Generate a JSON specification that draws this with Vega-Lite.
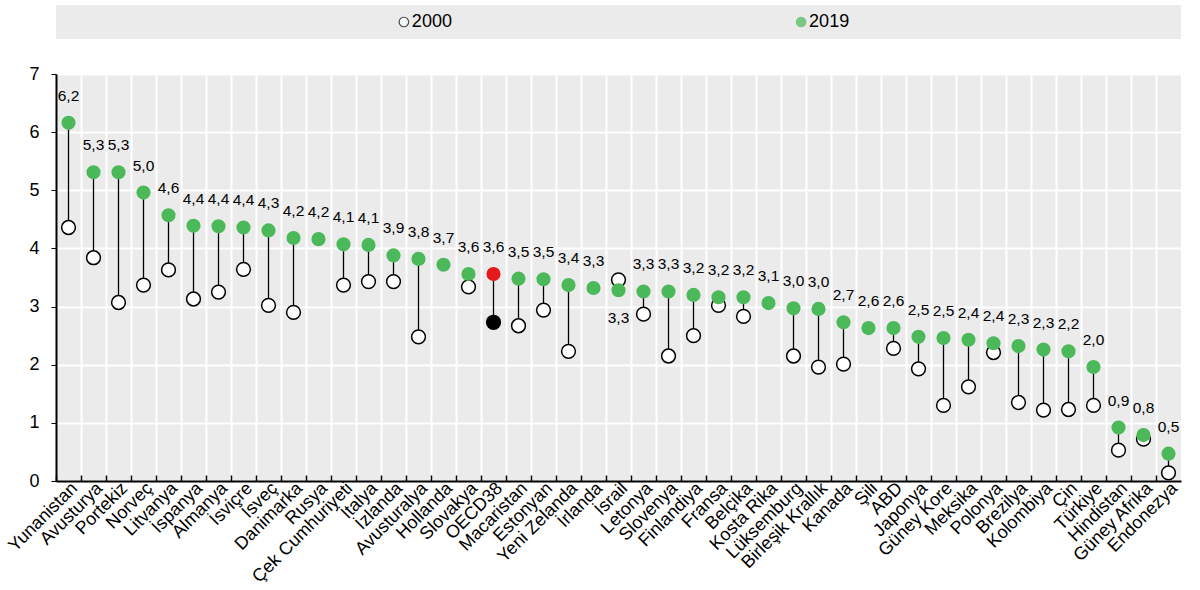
{
  "$schema": "https://vega.github.io/schema/vega-lite/v6.json",
  "padding": 5,
  "spacing": 35,
  "bounds": "flush",
  "config": {
    "locale": {"number": {"decimal": ",", "thousands": ".", "grouping": [3], "currency": ["", ""]}},
    "view": {"stroke": null},
    "font": "Liberation Sans, Arial, sans-serif"
  },
  "datasets": {
    "legend": [{"series": "2000"}, {"series": "2019"}],
    "main": [
      {"c": "Yunanistan", "y2000": 4.36, "y2019": 6.16},
      {"c": "Avusturya", "y2000": 3.84, "y2019": 5.31},
      {"c": "Portekiz", "y2000": 3.07, "y2019": 5.31},
      {"c": "Norveç", "y2000": 3.37, "y2019": 4.96},
      {"c": "Litvanya", "y2000": 3.63, "y2019": 4.57},
      {"c": "İspanya", "y2000": 3.13, "y2019": 4.39},
      {"c": "Almanya", "y2000": 3.25, "y2019": 4.38},
      {"c": "İsviçre", "y2000": 3.64, "y2019": 4.36},
      {"c": "İsveç", "y2000": 3.02, "y2019": 4.31},
      {"c": "Danimarka", "y2000": 2.9, "y2019": 4.18},
      {"c": "Rusya", "y2000": null, "y2019": 4.16},
      {"c": "Çek Cumhuriyeti", "y2000": 3.37, "y2019": 4.07},
      {"c": "İtalya", "y2000": 3.43, "y2019": 4.06},
      {"c": "İzlanda", "y2000": 3.43, "y2019": 3.88},
      {"c": "Avusturalya", "y2000": 2.48, "y2019": 3.82},
      {"c": "Hollanda", "y2000": null, "y2019": 3.72},
      {"c": "Slovakya", "y2000": 3.34, "y2019": 3.56},
      {"c": "OECD38", "y2000": 2.73, "y2019": 3.56},
      {"c": "Macaristan", "y2000": 2.67, "y2019": 3.48},
      {"c": "Estonyan", "y2000": 2.94, "y2019": 3.47},
      {"c": "Yeni Zelanda", "y2000": 2.23, "y2019": 3.37},
      {"c": "İrlanda", "y2000": null, "y2019": 3.32},
      {"c": "İsrail", "y2000": 3.46, "y2019": 3.28},
      {"c": "Letonya", "y2000": 2.87, "y2019": 3.26},
      {"c": "Slovenya", "y2000": 2.15, "y2019": 3.26},
      {"c": "Finlandiya", "y2000": 2.5, "y2019": 3.2},
      {"c": "Fransa", "y2000": 3.02, "y2019": 3.16},
      {"c": "Belçika", "y2000": 2.83, "y2019": 3.16},
      {"c": "Kosta Rika", "y2000": null, "y2019": 3.06},
      {"c": "Lüksemburg", "y2000": 2.15, "y2019": 2.97},
      {"c": "Birleşik Krallık", "y2000": 1.96, "y2019": 2.96},
      {"c": "Kanada", "y2000": 2.01, "y2019": 2.73},
      {"c": "Şili", "y2000": null, "y2019": 2.63},
      {"c": "ABD", "y2000": 2.28, "y2019": 2.63},
      {"c": "Japonya", "y2000": 1.93, "y2019": 2.48},
      {"c": "Güney Kore", "y2000": 1.3, "y2019": 2.46},
      {"c": "Meksika", "y2000": 1.62, "y2019": 2.43},
      {"c": "Polonya", "y2000": 2.21, "y2019": 2.37},
      {"c": "Brezilya", "y2000": 1.35, "y2019": 2.32},
      {"c": "Kolombiya", "y2000": 1.22, "y2019": 2.26},
      {"c": "Çin", "y2000": 1.23, "y2019": 2.23},
      {"c": "Türkiye", "y2000": 1.3, "y2019": 1.96},
      {"c": "Hindistan", "y2000": 0.53, "y2019": 0.92},
      {"c": "Güney Afrika", "y2000": 0.72, "y2019": 0.79},
      {"c": "Endonezya", "y2000": 0.14, "y2019": 0.47}
    ]
  },
  "vconcat": [
    {
      "width": 1125,
      "height": 34,
      "view": {"fill": "#EBEBEB", "stroke": null},
      "data": {"name": "legend"},
      "encoding": {
        "x": {"field": "series", "type": "nominal", "scale": {"type": "point", "padding": 0.916, "align": 0.478}, "axis": null}
      },
      "layer": [
        {
          "mark": {"type": "point", "filled": true, "size": 90, "strokeWidth": 1.2},
          "encoding": {
            "fill": {"field": "series", "type": "nominal", "scale": {"domain": ["2000", "2019"], "range": ["#FFFFFF", "#4BB85A"]}, "legend": null},
            "stroke": {"field": "series", "type": "nominal", "scale": {"domain": ["2000", "2019"], "range": ["#000000", "#4BB85A"]}, "legend": null}
          }
        },
        {
          "mark": {"type": "text", "align": "left", "baseline": "middle", "dx": 8, "fontSize": 18, "color": "#000000"},
          "encoding": {"text": {"field": "series", "type": "nominal"}}
        }
      ]
    },
    {
      "width": 1125,
      "height": 407,
      "view": {"fill": "#EBEBEB", "stroke": null},
      "data": {"name": "main"},
      "encoding": {
        "x": {
          "field": "c", "type": "nominal",
          "sort": ["Yunanistan", "Avusturya", "Portekiz", "Norveç", "Litvanya", "İspanya", "Almanya", "İsviçre", "İsveç", "Danimarka", "Rusya", "Çek Cumhuriyeti", "İtalya", "İzlanda", "Avusturalya", "Hollanda", "Slovakya", "OECD38", "Macaristan", "Estonyan", "Yeni Zelanda", "İrlanda", "İsrail", "Letonya", "Slovenya", "Finlandiya", "Fransa", "Belçika", "Kosta Rika", "Lüksemburg", "Birleşik Krallık", "Kanada", "Şili", "ABD", "Japonya", "Güney Kore", "Meksika", "Polonya", "Brezilya", "Kolombiya", "Çin", "Türkiye", "Hindistan", "Güney Afrika", "Endonezya"],
          "scale": {"paddingInner": 0, "paddingOuter": 0},
          "axis": {
            "title": null, "labelAngle": -45, "labelFontSize": 18, "labelColor": "#000000",
            "bandPosition": 0, "grid": true, "gridColor": "#FFFFFF", "gridWidth": 2,
            "ticks": true, "tickColor": "#000000", "tickSize": -6, "tickWidth": 1.5,
            "domainColor": "#000000", "domainWidth": 2, "labelPadding": 4
          }
        }
      },
      "layer": [
        {
          "transform": [{"filter": "datum.y2000 != null"}],
          "mark": {"type": "rule", "color": "#000000", "strokeWidth": 1.3},
          "encoding": {
            "y": {"field": "y2000", "type": "quantitative", "scale": {"domain": [0, 7], "nice": false},
              "axis": {"title": null, "values": [0, 1, 2, 3, 4, 5, 6, 7], "format": ".0f", "labelFontSize": 18, "labelColor": "#000000", "gridColor": "#FFFFFF", "gridWidth": 2, "tickColor": "#000000", "tickSize": 5, "domainColor": "#000000", "domainWidth": 2, "labelPadding": 12}},
            "y2": {"field": "y2019"}
          }
        },
        {
          "transform": [{"filter": "datum.y2000 != null"}],
          "mark": {"type": "point", "filled": true, "size": 190, "strokeWidth": 1.5, "stroke": "#000000", "opacity": 1},
          "encoding": {
            "y": {"field": "y2000", "type": "quantitative"},
            "fill": {"condition": {"test": "datum.c === 'OECD38'", "value": "#000000"}, "value": "#FFFFFF"}
          }
        },
        {
          "mark": {"type": "point", "filled": true, "size": 200, "opacity": 1},
          "encoding": {
            "y": {"field": "y2019", "type": "quantitative"},
            "fill": {"condition": {"test": "datum.c === 'OECD38'", "value": "#E3191C"}, "value": "#4BB85A"}
          }
        },
        {
          "transform": [{"filter": "datum.y2000 == null || datum.y2019 >= datum.y2000"}],
          "mark": {"type": "text", "baseline": "alphabetic", "dy": -22, "fontSize": 15.5, "color": "#000000"},
          "encoding": {
            "y": {"field": "y2019", "type": "quantitative"},
            "text": {"field": "y2019", "type": "quantitative", "format": ".1f"}
          }
        },
        {
          "transform": [{"filter": "datum.y2000 != null && datum.y2019 < datum.y2000"}],
          "mark": {"type": "text", "baseline": "top", "dy": 21, "fontSize": 15.5, "color": "#000000"},
          "encoding": {
            "y": {"field": "y2019", "type": "quantitative"},
            "text": {"field": "y2019", "type": "quantitative", "format": ".1f"}
          }
        }
      ]
    }
  ]
}
